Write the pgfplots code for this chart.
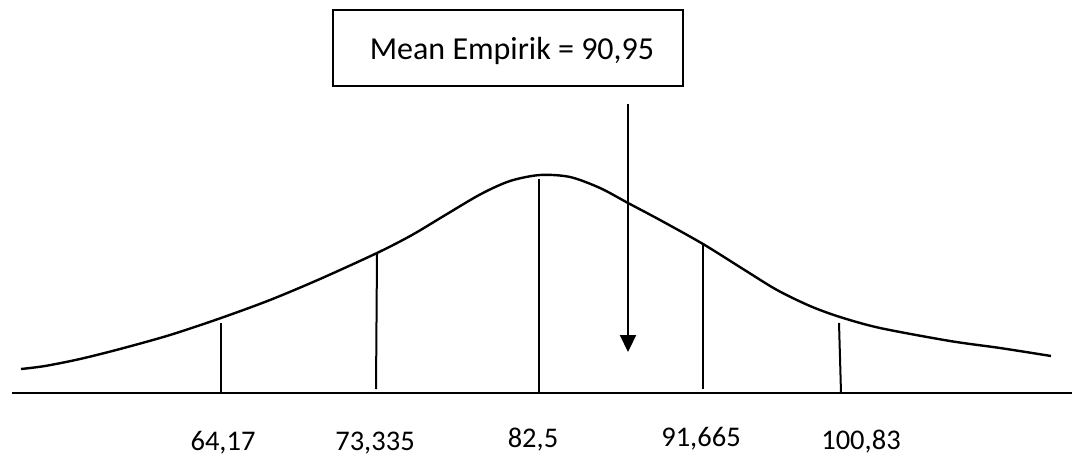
\documentclass[border=0pt]{standalone}
\usepackage{pgfplots}
\pgfplotsset{compat=1.18}
\usepackage{fontspec}
\setmainfont{Carlito}
\usetikzlibrary{arrows.meta}
\begin{document}
\begin{tikzpicture}
\useasboundingbox (0,0) rectangle (1075pt,457pt);
\begin{axis}[
  width=1075pt, height=457pt, scale only axis,
  xmin=0, xmax=1075, ymin=0, ymax=457, y dir=reverse,
  hide axis, clip=false]
% baseline
\addplot[black, line width=2.8pt] coordinates {(12,393) (1072,393)};
% bell curve
\addplot[black, line width=2.4pt, smooth, tension=0.5] coordinates {
(21,369) (45,366) (80,359) (120,349) (170,335) (221,318) (270,300) (320,279)
(377,253) (412,235) (447,214) (481,194) (510,181) (540,175) (570,177)
(600,188) (628,203) (660,220) (703,244) (743,269) (777,290) (810,306)
(840,317) (880,328) (950,341) (1000,348) (1051,356)};
% vertical lines
\addplot[black, line width=2pt] coordinates {(221,323) (221,393)};
\addplot[black, line width=2pt] coordinates {(377,254) (376,389)};
\addplot[black, line width=2pt] coordinates {(539,179) (539,393)};
\addplot[black, line width=2pt] coordinates {(703,245) (703,389)};
\addplot[black, line width=2pt] coordinates {(839,323) (841,393)};
% arrow
\addplot[black, line width=2.2pt, -{Triangle[length=17pt,width=16pt]}] coordinates {(628,104) (628,352)};
% box
\node[draw=black, line width=1.8pt, minimum width=350pt, minimum height=76pt, inner sep=0pt] (B) at (axis cs:508,48) {};
\node[anchor=base, font=\fontsize{32}{37}\selectfont] at (axis cs:512,60) {Mean Empirik = 90,95};
% labels
\node[anchor=base, font=\fontsize{28.5}{33}\selectfont] at (axis cs:223,450) {64,17};
\node[anchor=base, font=\fontsize{28.5}{33}\selectfont] at (axis cs:375,450) {73,335};
\node[anchor=base, font=\fontsize{28.5}{33}\selectfont] at (axis cs:533,447) {82,5};
\node[anchor=base, font=\fontsize{28.5}{33}\selectfont] at (axis cs:701,446) {91,665};
\node[anchor=base, font=\fontsize{28.5}{33}\selectfont] at (axis cs:861,449) {100,83};
\end{axis}
\end{tikzpicture}
\end{document}
